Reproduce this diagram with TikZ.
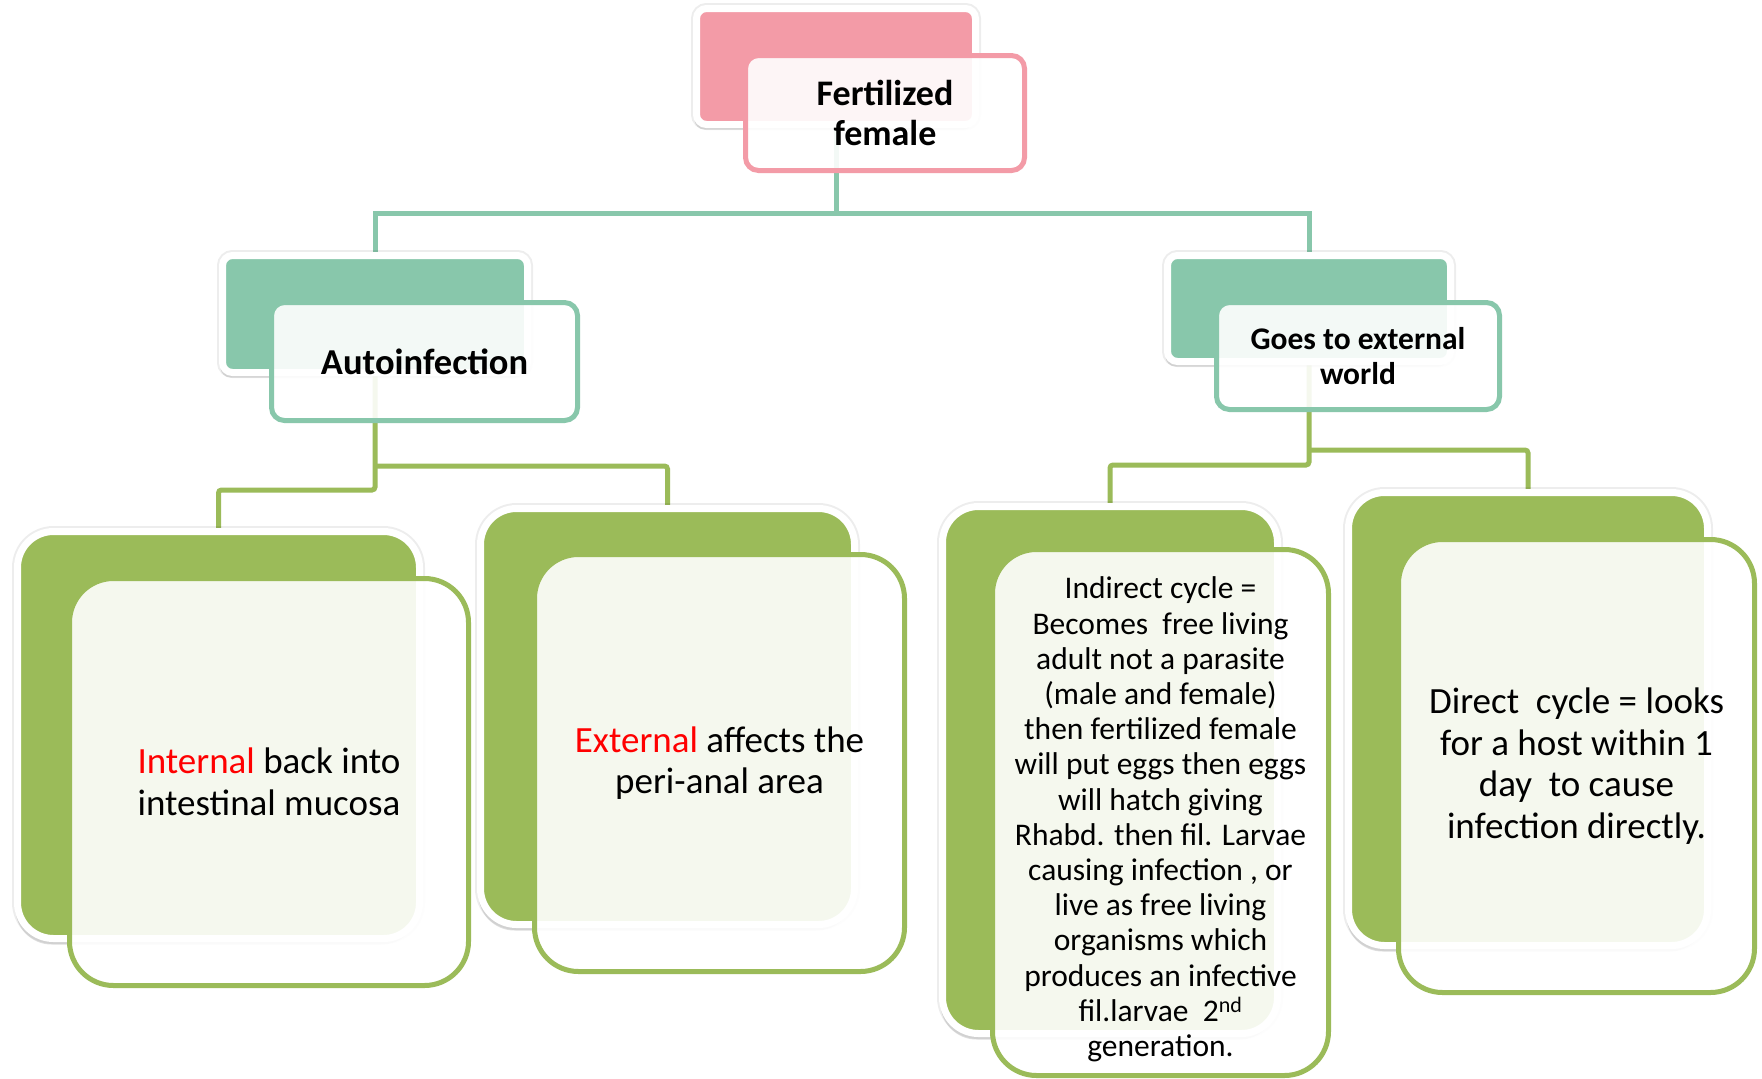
\documentclass[tikz,border=0pt]{standalone}
\usepackage{fontspec}
\setmainfont{Carlito}
\usetikzlibrary{shadows}
\definecolor{pinkc}{HTML}{F39BA7}
\definecolor{tealc}{HTML}{88C7AB}
\definecolor{greenc}{HTML}{9BBB59}
\pgfdeclarelayer{bg}
\pgfsetlayers{bg,main}
\begin{document}
\begin{tikzpicture}[x=1pt,y=-1pt,
  backsmall/.style={draw=white, line width=7pt, rounded corners=10pt, inner sep=0pt,
    preaction={draw=black, draw opacity=0.07, line width=11pt},
    drop shadow={opacity=0.25, shadow xshift=-2pt, shadow yshift=-5pt}},
  backbig/.style={draw=white, line width=7pt, rounded corners=36pt, inner sep=0pt,
    preaction={draw=black, draw opacity=0.07, line width=11pt},
    drop shadow={opacity=0.25, shadow xshift=-2pt, shadow yshift=-6pt}},
  frontsmall/.style={fill=white, fill opacity=0.9, text opacity=1, line width=5pt,
    rounded corners=13pt, inner sep=0pt, align=center},
  frontbig/.style={fill=white, fill opacity=0.9, text opacity=1, line width=5pt,
    rounded corners=44pt, inner sep=0pt, align=center},
  tealline/.style={draw=tealc, line width=5pt},
  greenline/.style={draw=greenc, line width=5pt, rounded corners=3pt},
  bigtext/.style={font=\fontsize{37}{41.5}\selectfont},
  smalltext/.style={font=\fontsize{31.5}{35.2}\selectfont}
]
\useasboundingbox (0,0) rectangle (1762,1079);
\begin{pgfonlayer}{bg}
  \fill[white] (0,0) rectangle (1762,1079);
\end{pgfonlayer}

% level 1
\node[backsmall, fill=pinkc, minimum width=279pt, minimum height=116pt] (fb) at (836,66.5) {};
\node[frontsmall, draw=pinkc, minimum width=279pt, minimum height=115pt,
  font=\fontsize{36}{40}\selectfont\bfseries] (ff) at (885,113) {Fertilized\\female};

% level 2
\node[backsmall, fill=tealc, minimum width=305pt, minimum height=117pt] (ab) at (375,314) {};
\node[frontsmall, draw=tealc, minimum width=306pt, minimum height=118pt,
  font=\fontsize{36.5}{40}\selectfont\bfseries] (af) at (424.5,361.5) {Autoinfection};

\node[backsmall, fill=tealc, minimum width=283pt, minimum height=106pt] (gb) at (1309,308.5) {};
\node[frontsmall, draw=tealc, minimum width=283pt, minimum height=107pt,
  font=\fontsize{31.5}{35}\selectfont\bfseries] (gf) at (1358,356) {Goes to external\\world};

% level 3
\node[backbig, fill=greenc, minimum width=402pt, minimum height=407pt] (Ab) at (218.5,735) {};
\node[frontbig, draw=greenc, minimum width=399pt, minimum height=407pt, bigtext] (Af) at (269,782)
  {\textcolor{red}{Internal} back into\\intestinal mucosa};

\node[backbig, fill=greenc, minimum width=374pt, minimum height=416pt] (Bb) at (667.5,716.5) {};
\node[frontbig, draw=greenc, minimum width=370pt, minimum height=417pt, bigtext] (Bf) at (719.5,763)
  {\textcolor{red}{External} affects the\\peri-anal area};

\node[backbig, fill=greenc, minimum width=335pt, minimum height=527pt] (Cb) at (1110,770) {};
\node[frontbig, draw=greenc, minimum width=336pt, minimum height=526pt] (Cf) at (1160.5,812.5) {};
\node[smalltext, align=center, inner sep=0pt] (Ct) at ([yshift=-7pt]Cf.center)
  {Indirect cycle =\\Becomes~ free living\\adult not a parasite\\(male and female)\\then fertilized female\\will put eggs then eggs\\will hatch giving\\Rhabd. then fil. Larvae\\causing infection , or\\live as free living\\organisms which\\produces an infective\\fil.larvae~ 2\textsuperscript{nd}\\generation.};

\node[backbig, fill=greenc, minimum width=359pt, minimum height=453pt] (Db) at (1528,719) {};
\node[frontbig, draw=greenc, minimum width=356pt, minimum height=453pt, bigtext] (Df) at (1576.5,766)
  {Direct~ cycle = looks\\for a host within 1\\day~ to cause\\infection directly.};

% connectors
\coordinate (t1) at (836,213);
\coordinate (la) at (375,466);
\coordinate (lb) at (375,490);
\coordinate (rc) at (1309,465);
\coordinate (rd) at (1309,450);
\begin{pgfonlayer}{bg}
  \draw[tealline] (fb.center) -- (t1) -| (ab.center);
  \draw[tealline] (t1) -| (gb.center);
  \draw[greenline] (ab.center) -- (lb) -| (Ab.center);
  \draw[greenline] (la) -| (Bb.center);
  \draw[greenline] (gb.center) -- (rc) -| (Cb.center);
  \draw[greenline] (rd) -| (Db.center);
\end{pgfonlayer}
\end{tikzpicture}
\end{document}
